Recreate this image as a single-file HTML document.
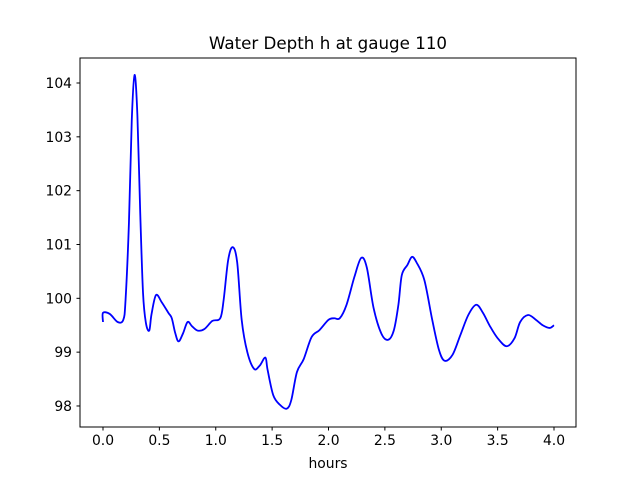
<!DOCTYPE html>
<html><head><meta charset="utf-8"><style>
body{margin:0;background:#fff;}
svg text{font-family:"DejaVu Sans","Liberation Sans",sans-serif;}
</style></head><body>
<svg width="640" height="480" viewBox="0 0 640 480">
<rect width="640" height="480" fill="#fff"/>
<text x="328" y="49" text-anchor="middle" font-size="16.7">Water Depth h at gauge 110</text>
<g id="plot"></g>
<rect x="80" y="58" width="496" height="369" fill="none" stroke="#000" stroke-width="1"/>
<g id="xt"></g>
<g id="yt"></g>
<text x="328" y="468" text-anchor="middle" font-size="13.9">hours</text>
</svg>
<script>
const hours=[0,0,0.06,0.13,0.18,0.2,0.23,0.255,0.28,0.305,0.33,0.355,0.38,0.41,0.43,0.47,0.52,0.58,0.61,0.64,0.67,0.71,0.75,0.79,0.84,0.9,0.97,1.04,1.07,1.11,1.15,1.19,1.23,1.28,1.34,1.39,1.44,1.46,1.51,1.57,1.63,1.67,1.72,1.78,1.85,1.92,2.0,2.05,2.1,2.16,2.23,2.29,2.34,2.4,2.47,2.53,2.58,2.62,2.65,2.7,2.74,2.78,2.85,2.92,2.98,3.03,3.1,3.17,3.24,3.31,3.37,3.43,3.5,3.58,3.65,3.7,3.77,3.84,3.9,3.96,4.0];
const depth=[99.56,99.73,99.71,99.56,99.6,99.97,101.4,103.3,104.15,103.4,101.6,100.1,99.55,99.4,99.7,100.06,99.93,99.73,99.63,99.36,99.2,99.35,99.56,99.48,99.4,99.43,99.58,99.63,99.97,100.71,100.95,100.67,99.6,99.0,98.69,98.75,98.9,98.67,98.2,98.02,97.95,98.11,98.63,98.87,99.28,99.41,99.6,99.63,99.63,99.88,100.4,100.75,100.57,99.82,99.34,99.23,99.41,99.88,100.43,100.62,100.77,100.67,100.34,99.6,99.04,98.84,98.95,99.32,99.69,99.88,99.73,99.49,99.26,99.11,99.26,99.56,99.69,99.6,99.5,99.45,99.5];
const xTicks=[0,0.5,1,1.5,2,2.5,3,3.5,4];
const xTickLabels=["0.0","0.5","1.0","1.5","2.0","2.5","3.0","3.5","4.0"];
const yTicks=[98,99,100,101,102,103,104];
const yTickLabels=["98","99","100","101","102","103","104"];
const NS="http://www.w3.org/2000/svg";
const X=v=>103+v*112.75, Y=v=>83+(104-v)*53.83;
const pts=hours.map((h,i)=>[X(h),Y(depth[i])]);
let d="M"+pts[0][0]+","+pts[0][1];
for(let i=0;i<pts.length-1;i++){
 const p0=pts[Math.max(0,i-1)],p1=pts[i],p2=pts[i+1],p3=pts[Math.min(pts.length-1,i+2)];
 const c1=[p1[0]+(p2[0]-p0[0])/6,p1[1]+(p2[1]-p0[1])/6],c2=[p2[0]-(p3[0]-p1[0])/6,p2[1]-(p3[1]-p1[1])/6];
 d+=` C${c1[0]},${c1[1]} ${c2[0]},${c2[1]} ${p2[0]},${p2[1]}`;
}
const path=document.createElementNS(NS,"path");


path.setAttribute("d",d);path.setAttribute("fill","none");path.setAttribute("stroke","#0000ff");path.setAttribute("stroke-width","1.8");path.setAttribute("stroke-linejoin","round");
document.getElementById("plot").appendChild(path);
const xt=document.getElementById("xt");
xTicks.forEach((t,i)=>{
 const l=document.createElementNS(NS,"line");
 
 
 l.setAttribute("x1",X(t));l.setAttribute("x2",X(t));l.setAttribute("y1",427);l.setAttribute("y2",430.5);l.setAttribute("stroke","#000");
 xt.appendChild(l);
 const tx=document.createElementNS(NS,"text");
 
 
 tx.setAttribute("x",X(t));tx.setAttribute("y",445);tx.setAttribute("text-anchor","middle");tx.setAttribute("font-size","13.9");
 tx.textContent=xTickLabels[i];xt.appendChild(tx);
});
const yt=document.getElementById("yt");
yTicks.forEach((t,i)=>{
 const l=document.createElementNS(NS,"line");
 
 
 l.setAttribute("x1",76.5);l.setAttribute("x2",80);l.setAttribute("y1",Y(t));l.setAttribute("y2",Y(t));l.setAttribute("stroke","#000");
 yt.appendChild(l);
 const tx=document.createElementNS(NS,"text");
 
 
 tx.setAttribute("x",72);tx.setAttribute("y",Y(t)+5);tx.setAttribute("text-anchor","end");tx.setAttribute("font-size","13.9");
 tx.textContent=yTickLabels[i];yt.appendChild(tx);
});
</script>
</body></html>
